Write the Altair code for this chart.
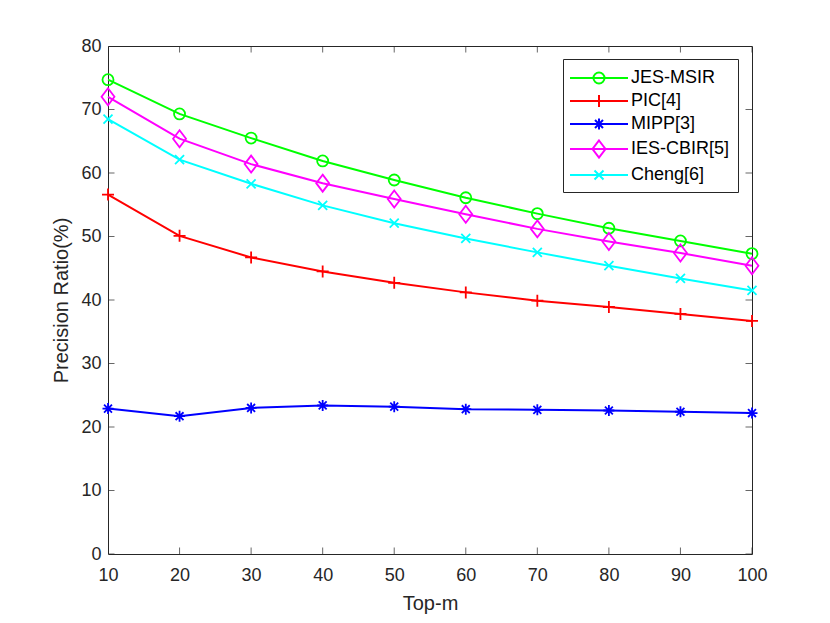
import altair as alt
import pandas as pd

top_m = [10, 20, 30, 40, 50, 60, 70, 80, 90, 100]
jes_msir = [74.7, 69.3, 65.5, 61.9, 58.9, 56.1, 53.6, 51.3, 49.3, 47.3]
pic4 = [56.6, 50.1, 46.7, 44.5, 42.7, 41.2, 39.9, 38.9, 37.8, 36.7]
mipp3 = [22.9, 21.7, 23.0, 23.4, 23.2, 22.8, 22.7, 22.6, 22.4, 22.2]
ies_cbir5 = [72.0, 65.4, 61.4, 58.4, 55.9, 53.5, 51.2, 49.2, 47.4, 45.4]
cheng6 = [68.5, 62.1, 58.3, 54.9, 52.1, 49.7, 47.5, 45.4, 43.4, 41.5]

series_names = ["JES-MSIR", "PIC[4]", "MIPP[3]", "IES-CBIR[5]", "Cheng[6]"]
series_values = [jes_msir, pic4, mipp3, ies_cbir5, cheng6]
colors = ["#00FF00", "#FF0000", "#0000FF", "#FF00FF", "#00FFFF"]

x_ticks = [10, 20, 30, 40, 50, 60, 70, 80, 90, 100]
y_ticks = [0, 10, 20, 30, 40, 50, 60, 70, 80]

# marker shapes (stroke only)
marker_shapes = [
    ("circle", 121),
    ("M-1,0L1,0M0,-1L0,1", 144),
    ("M-1,0L1,0M0,-1L0,1M-0.72,-0.72L0.72,0.72M-0.72,0.72L0.72,-0.72", 121),
    ("M0,-1L0.76,0L0,1L-0.76,0Z", 289),
    ("M-1,-1L1,1M-1,1L1,-1", 81),
]
# legend symbols: line plus marker (unit = 10px with symbolSize 400)
LINE = "M-2.9,0L2.9,0"
legend_shapes = [
    LINE + "M0.55,0A0.55,0.55 0 1 1 -0.55,0A0.55,0.55 0 1 1 0.55,0",
    LINE + "M0,-0.6L0,0.6",
    LINE + "M0,-0.55L0,0.55M-0.4,-0.4L0.4,0.4M-0.4,0.4L0.4,-0.4",
    LINE + "M0,-0.85L0.65,0L0,0.85L-0.65,0Z",
    LINE + "M-0.45,-0.45L0.45,0.45M-0.45,0.45L0.45,-0.45",
]

rows = []
for name, vals in zip(series_names, series_values):
    for xv, yv in zip(top_m, vals):
        rows.append({"series": name, "top_m": xv, "value": yv})
df = pd.DataFrame(rows)

FONT = "Liberation Sans"
AX = "#262626"

x_scale = alt.Scale(domain=[10, 100], nice=False, zero=False)
y_scale = alt.Scale(domain=[0, 80], nice=False)

x_axis = alt.Axis(values=x_ticks, title="Top-m", grid=False, ticks=False, domain=False,
                  labelFlush=False, labelOverlap=False, labelPadding=12, titlePadding=9)
y_axis = alt.Axis(values=y_ticks, title="Precision Ratio(%)", grid=False, ticks=False,
                  domain=False, labelPadding=7, titlePadding=9)

base = alt.Chart(df)
layers = []
for i, (name, col) in enumerate(zip(series_names, colors)):
    shape, size = marker_shapes[i]
    sub = base.transform_filter(alt.datum.series == name)
    enc = dict(x=alt.X("top_m:Q", scale=x_scale, axis=x_axis),
               y=alt.Y("value:Q", scale=y_scale, axis=y_axis))
    layers.append(sub.mark_line(color=col, strokeWidth=2).encode(**enc))
    layers.append(sub.mark_point(color=col, shape=shape, size=size, filled=False,
                                 strokeWidth=1.8, opacity=1).encode(**enc))

legend_layer = base.transform_filter("false").mark_point(filled=False, opacity=1).encode(
    x=alt.X("top_m:Q", scale=x_scale),
    y=alt.Y("value:Q", scale=y_scale),
    color=alt.Color("series:N", scale=alt.Scale(domain=series_names, range=colors),
                    legend=alt.Legend(title=None, orient="none", legendX=455, legendY=13,
                                      padding=8, rowPadding=2, symbolSize=400,
                                      symbolStrokeWidth=2, symbolOffset=17, labelOffset=21,
                                      labelFont=FONT, labelFontSize=18, labelColor="#000000",
                                      labelLimit=400, strokeColor=AX, fillColor="white",
                                      cornerRadius=0)),
    shape=alt.Shape("series:N", scale=alt.Scale(domain=series_names, range=legend_shapes)),
)

xt = pd.DataFrame({"t": x_ticks})
yt = pd.DataFrame({"t": y_ticks})
tick_kw = dict(color=AX, thickness=1, size=13, clip=True)
ticks_bottom = alt.Chart(xt).mark_tick(orient="vertical", **tick_kw).encode(
    x=alt.X("t:Q", scale=x_scale), y=alt.datum(0))
ticks_top = alt.Chart(xt).mark_tick(orient="vertical", **tick_kw).encode(
    x=alt.X("t:Q", scale=x_scale), y=alt.datum(80))
ticks_left = alt.Chart(yt).mark_tick(orient="horizontal", **tick_kw).encode(
    y=alt.Y("t:Q", scale=y_scale), x=alt.datum(10))
ticks_right = alt.Chart(yt).mark_tick(orient="horizontal", **tick_kw).encode(
    y=alt.Y("t:Q", scale=y_scale), x=alt.datum(100))

chart = alt.layer(ticks_bottom, ticks_top, ticks_left, ticks_right, *layers, legend_layer).properties(
    width=644, height=508,
    autosize=alt.AutoSizeParams(type="none"),
    padding={"left": 100, "top": 38, "right": 60, "bottom": 60},
    background="white",
).configure_view(
    stroke=AX, strokeWidth=1
).configure_axis(
    labelFont=FONT, labelFontSize=18, labelColor=AX,
    titleFont=FONT, titleFontSize=20, titleFontWeight="normal", titleColor=AX,
)

chart.save("out.html", embed_options={"renderer": "svg", "actions": False})
